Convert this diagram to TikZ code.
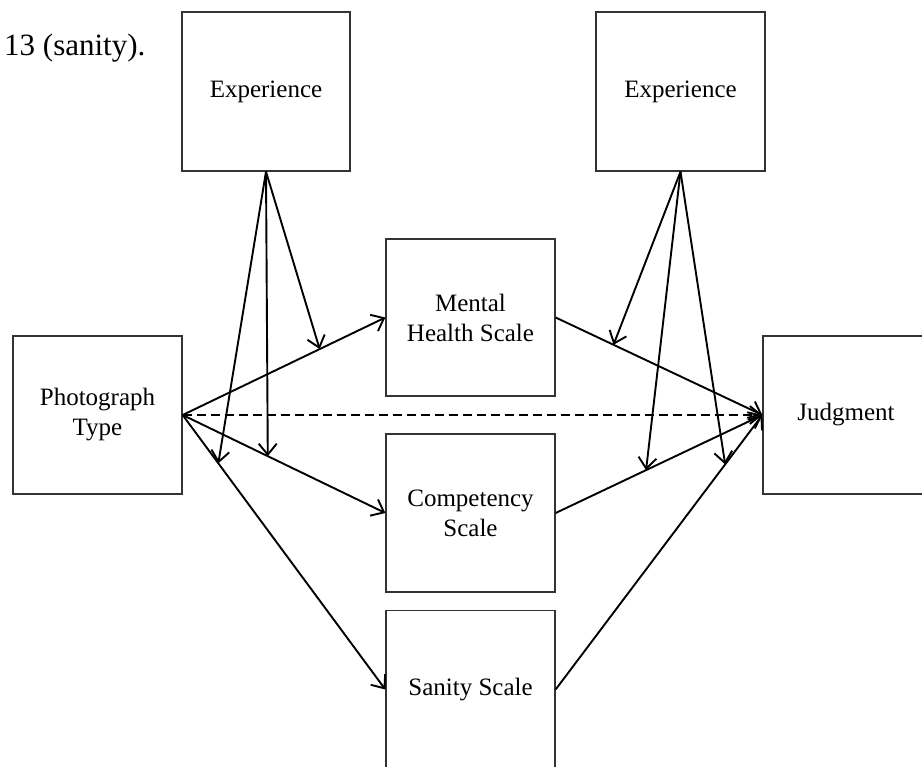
\documentclass[tikz,border=0pt]{standalone}
\usepackage{fontspec}
\setmainfont{Liberation Serif}
\usetikzlibrary{arrows.meta}
\begin{document}
\begin{tikzpicture}[x=1pt,y=-1pt,
  box/.style={draw=black!80,line width=1.3pt,rectangle,minimum width=169pt,minimum height=158pt,
    align=center,font=\fontsize{25}{30}\selectfont,inner sep=0pt},
  arr/.style={draw=black,line width=1.9pt,-{Straight Barb[length=11pt,width=18pt]}},
  dasharr/.style={arr,dash pattern=on 9pt off 5pt}]
\useasboundingbox (0,0) rectangle (922,767);
\node[anchor=west,font=\fontsize{31}{36}\selectfont,inner sep=0pt] (cap) at (4,48) {13 (sanity).};
\node[box,minimum width=168pt,minimum height=159pt] (exL) at (266,91.5) {Experience};
\node[box,minimum height=159pt] (exR) at (680.5,91.5) {Experience};
\node[box] (photo) at (97.5,415) {Photograph\\Type};
\node[box,minimum height=157pt] (mh) at (470.5,317.5) {Mental\\Health Scale};
\node[box] (comp) at (470.5,513) {Competency\\Scale};
\node[box] (san) at (470.5,689.5) {Sanity Scale};
\node[box,minimum width=166pt] (jud) at (846,415) {Judgment};
% main paths
\draw[arr] (photo.east) -- (mh.west) coordinate[pos=0.676] (p1);
\draw[arr] (photo.east) -- (comp.west) coordinate[pos=0.42] (p2);
\draw[arr] (photo.east) -- (san.west) coordinate[pos=0.176] (p3);
\draw[arr] (mh.east) -- (jud.west) coordinate[pos=0.28] (q1);
\draw[arr] (comp.east) -- (jud.west) coordinate[pos=0.4375] (q2);
\draw[arr] (san.east) -- (jud.west) coordinate[pos=0.82] (q3);
\draw[dasharr] (photo.east) -- (jud.west);
% moderators
\draw[arr] (exL.south) -- (p1);
\draw[arr] (exL.south) -- (p2);
\draw[arr] (exL.south) -- (p3);
\draw[arr] (exR.south) -- (q1);
\draw[arr] (exR.south) -- (q2);
\draw[arr] (exR.south) -- (q3);
\end{tikzpicture}
\end{document}
